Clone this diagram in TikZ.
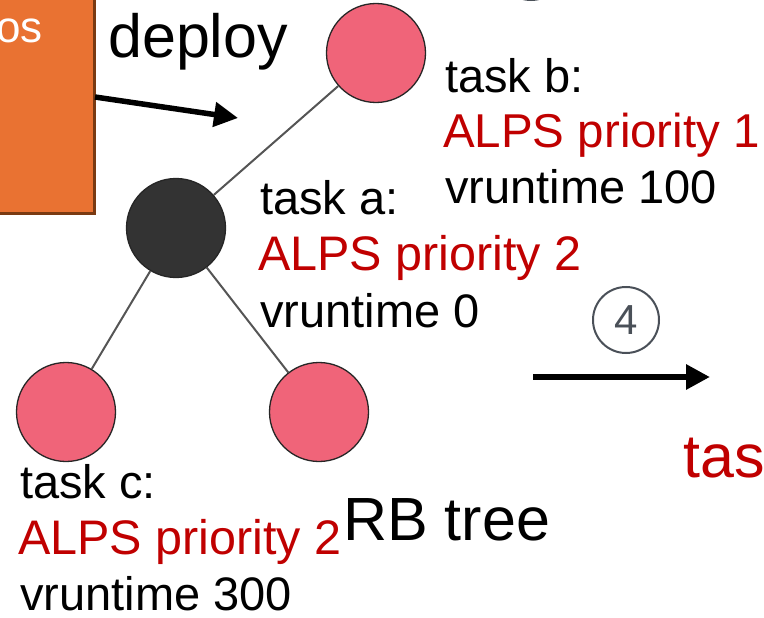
\documentclass[tikz,border=0pt]{standalone}
\usepackage{fontspec}
\setmainfont{Liberation Sans}
\usetikzlibrary{arrows.meta}
\definecolor{boxorange}{HTML}{E97232}
\definecolor{boxedge}{HTML}{7A3A12}
\definecolor{nodepink}{HTML}{F06479}
\definecolor{nodedark}{HTML}{333333}
\definecolor{prio}{HTML}{C00000}
\definecolor{stepgray}{HTML}{4A5058}
\definecolor{edgegray}{HTML}{555555}
\tikzset{
  treenode/.style={circle, draw=black!85, line width=1.3pt, minimum size=99pt, inner sep=0pt},
  leaf/.style={treenode, fill=nodepink},
  inner/.style={treenode, fill=nodedark},
  treeedge/.style={draw=edgegray, line width=2pt},
  txt/.style={anchor=base west, inner sep=0pt, font=\fontsize{47}{56}\selectfont},
  prioline/.style={anchor=base west, inner sep=0pt, text=prio, font=\fontsize{48.5}{56}\selectfont},
  bigtxt/.style={anchor=base west, inner sep=0pt, font=\fontsize{61}{70}\selectfont},
  steparrow/.style={line width=6.5pt, -{Triangle[length=24pt,width=24pt]}},
  stepmark/.style={circle, draw=stepgray, line width=2pt, minimum size=66pt, inner sep=0pt,
                   text=stepgray, font=\fontsize{42}{42}\selectfont}
}
\begin{document}
\begin{tikzpicture}[x=1pt,y=-1pt]
  \useasboundingbox (0,0) rectangle (764,618);
  \clip (0,0) rectangle (764,618);

  % scheduler box on the left
  \fill[boxedge] (-10,-10) rectangle (96,215);
  \fill[boxorange] (-10,-10) rectangle (92.5,211.5);
  \node[anchor=base east, inner sep=0pt, text=white, font=\fontsize{44}{44}\selectfont] (boxlabel) at (43,43) {os};

  % deploy arrow
  \coordinate (depA) at (95,97);
  \coordinate (depB) at (238,118);
  \draw[line width=5.5pt, -{Triangle[length=24pt,width=24pt]}] (depA) -- (depB);
  \node[bigtxt] (deploy) at (108,58) {deploy};

  % red-black tree
  \node[leaf]  (tb) at (376,53) {};
  \node[inner] (ta) at (176,228) {};
  \node[leaf]  (tc) at (66,412) {};
  \node[leaf]  (td) at (319,412) {};
  \draw[treeedge] (ta) -- (tb);
  \draw[treeedge] (ta) -- (tc);
  \draw[treeedge] (ta) -- (td);

  % task labels
  \node[txt] (lb1) at (445,93)  {task b:};
  \node[prioline, font=\fontsize{47.5}{56}\selectfont] (lb2) at (443,147) {ALPS priority 1};
  \node[txt] (lb3) at (445,204) {vruntime 100};

  \node[txt] (la1) at (260,214) {task a:};
  \node[prioline] (la2) at (258,270) {ALPS priority 2};
  \node[txt] (la3) at (260,327) {vruntime 0};

  \node[txt] (lc1) at (20,498) {task c:};
  \node[prioline] (lc2) at (18,554) {ALPS priority 2};
  \node[txt] (lc3) at (20,610) {vruntime 300};

  \node[bigtxt] (rb) at (343,540) {RB tree};

  % step 4
  \node[stepmark] (s4) at (626,320) {4};
  \coordinate (s4a) at (533,377);
  \coordinate (s4b) at (710,377);
  \draw[steparrow] (s4a) -- (s4b);
  \node[bigtxt, text=prio] (next) at (683,477) {task};

  % mark of a further step above the top edge
  \node[stepmark] (s3) at (531,-33) {};
\end{tikzpicture}
\end{document}
